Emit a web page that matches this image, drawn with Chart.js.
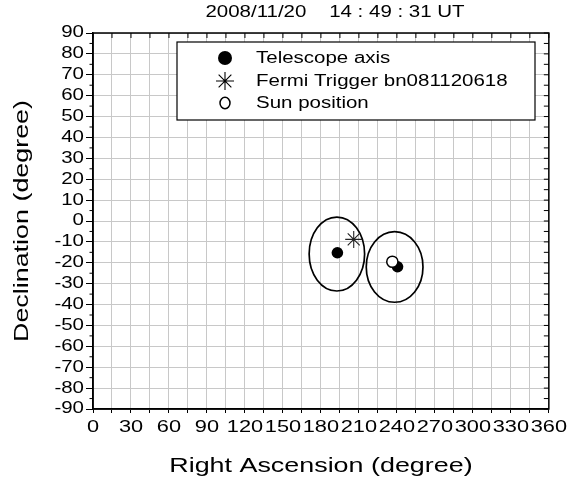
<!DOCTYPE html>
<html>
<head>
<meta charset="utf-8">
<script src="https://cdn.jsdelivr.net/npm/chart.js@4.4.0/dist/chart.umd.min.js"></script>
<style>
  html, body { margin: 0; padding: 0; background: #fff; overflow: hidden; }
  #wrap { position: absolute; left: 0; top: 0; width: 571px; height: 483px; }
</style>
</head>
<body>
<div id="wrap"><canvas id="sky"></canvas></div>
<script>
var titleText = "2008/11/20    14 : 49 : 31 UT";
var seriesLabels = ["Telescope axis", "Fermi Trigger bn081120618", "Sun position"];

var raMin = 0, raMax = 360, raStep = 15, raLabelStep = 30;
var decMin = -90, decMax = 90, decStep = 10;

var telescopeRA = [193.0, 240.5];
var telescopeDec = [-15.2, -21.9];
var fermiRA = [205.9];
var fermiDec = [-8.8];
var sunRA = [236.4];
var sunDec = [-19.5];

// field of view outlines: centre and half-widths, in degrees
var fovRA = [192.6, 238.2];
var fovDec = [-15.8, -22.0];
var fovHalfRA = [21.9, 22.4];
var fovHalfDec = [17.7, 16.9];

function pts(xs, ys) {
    return xs.map(function (x, i) { return { x: x, y: ys[i] }; });
}

// lettering in the source plot is set wide; stretch every string along its own baseline
var TEXT_WIDEN = 1.28;
var canvas = document.getElementById("sky");
var c2d = canvas.getContext("2d");
var nativeFill = c2d.fillText;
var nativeMeasure = c2d.measureText;
c2d.fillText = function (t, x, y, maxW) {
    this.save();
    this.translate(x, y);
    this.scale(TEXT_WIDEN, 1);
    if (maxW === undefined) nativeFill.call(this, t, 0, 0);
    else nativeFill.call(this, t, 0, 0, maxW / TEXT_WIDEN);
    this.restore();
};
c2d.measureText = function (t) {
    var m = nativeMeasure.call(this, t);
    return {
        width: m.width * TEXT_WIDEN,
        actualBoundingBoxLeft: m.actualBoundingBoxLeft * TEXT_WIDEN,
        actualBoundingBoxRight: m.actualBoundingBoxRight * TEXT_WIDEN,
        actualBoundingBoxAscent: m.actualBoundingBoxAscent,
        actualBoundingBoxDescent: m.actualBoundingBoxDescent
    };
};

Chart.defaults.font.family = "'Liberation Sans', Arial, sans-serif";
Chart.defaults.color = "#000";

function drawStar(ctx, x, y, r) {
    ctx.beginPath();
    for (var k = 0; k < 4; k++) {
        var a = k * Math.PI / 4;
        ctx.moveTo(x - r * Math.cos(a), y - r * Math.sin(a));
        ctx.lineTo(x + r * Math.cos(a), y + r * Math.sin(a));
    }
    ctx.stroke();
}

var fovPlugin = {
    id: "fov",
    beforeDatasetsDraw: function (chart) {
        var ctx = chart.ctx, xs = chart.scales.x, ys = chart.scales.y;
        ctx.save();
        ctx.strokeStyle = "#000";
        ctx.lineWidth = 1.7;
        for (var i = 0; i < fovRA.length; i++) {
            var cx = xs.getPixelForValue(fovRA[i]), cy = ys.getPixelForValue(fovDec[i]);
            var rx = Math.abs(xs.getPixelForValue(fovRA[i] + fovHalfRA[i]) - cx);
            var ry = Math.abs(ys.getPixelForValue(fovDec[i] + fovHalfDec[i]) - cy);
            ctx.beginPath();
            ctx.ellipse(cx, cy, rx, ry, 0, 0, Math.PI * 2);
            ctx.stroke();
        }
        ctx.restore();
    }
};

var framePlugin = {
    id: "frame",
    afterDraw: function (chart) {
        var ctx = chart.ctx, a = chart.chartArea, xs = chart.scales.x, ys = chart.scales.y;
        ctx.save();
        ctx.strokeStyle = "#000";
        ctx.lineWidth = 1;
        ctx.beginPath();
        for (var v = raMin; v <= raMax; v += raStep) {
            var px = xs.getPixelForValue(v);
            ctx.moveTo(px, a.top); ctx.lineTo(px, a.top + 5);
        }
        for (var d = decMin; d <= decMax; d += decStep / 2) {
            var py = ys.getPixelForValue(d);
            ctx.moveTo(a.right, py); ctx.lineTo(a.right - 5, py);
            if (d % decStep !== 0) { ctx.moveTo(a.left, py); ctx.lineTo(a.left - 3.5, py); }
        }
        ctx.stroke();
        ctx.lineWidth = 1.5;
        ctx.strokeRect(a.left, a.top, a.right - a.left, a.bottom - a.top);

        ctx.fillStyle = "#000";
        ctx.font = "16px 'Liberation Sans', Arial, sans-serif";
        ctx.textAlign = "center";
        ctx.textBaseline = "middle";
        ctx.fillText(titleText, 335, 13);
        ctx.restore();
    }
};

var legendPlugin = {
    id: "boxLegend",
    afterDraw: function (chart) {
        var ctx = chart.ctx;
        var box = { left: 177, top: 42, right: 535, bottom: 120 };
        var rows = [58, 81, 103];
        ctx.save();
        ctx.fillStyle = "#fff";
        ctx.fillRect(box.left, box.top, box.right - box.left, box.bottom - box.top);
        ctx.strokeStyle = "#000";
        ctx.lineWidth = 1.2;
        ctx.strokeRect(box.left, box.top, box.right - box.left, box.bottom - box.top);

        var sx = 225;
        ctx.fillStyle = "#000";
        ctx.beginPath(); ctx.arc(sx, rows[0], 7, 0, Math.PI * 2); ctx.fill();
        ctx.lineWidth = 1.1;
        drawStar(ctx, sx, rows[1], 9);
        ctx.lineWidth = 1.5;
        ctx.beginPath(); ctx.ellipse(sx, rows[2], 5, 5.8, 0, 0, Math.PI * 2); ctx.stroke();

        ctx.font = "16px 'Liberation Sans', Arial, sans-serif";
        ctx.textAlign = "left";
        ctx.textBaseline = "middle";
        for (var i = 0; i < seriesLabels.length; i++) ctx.fillText(seriesLabels[i], 256, rows[i] + 1);
        ctx.restore();
    }
};

new Chart(canvas, {
    type: "scatter",
    data: {
        datasets: [
            { label: seriesLabels[0], data: pts(telescopeRA, telescopeDec), order: 3,
              pointStyle: "circle", pointRadius: 5.8, backgroundColor: "#000", borderColor: "#000", borderWidth: 0 },
            { label: seriesLabels[1], data: pts(fermiRA, fermiDec), order: 2,
              pointStyle: "star", pointRadius: 8.5, borderColor: "#222", borderWidth: 1.1, backgroundColor: "transparent" },
            { label: seriesLabels[2], data: pts(sunRA, sunDec), order: 1,
              pointStyle: "circle", pointRadius: 5.6, backgroundColor: "#fff", borderColor: "#000", borderWidth: 1.5 }
        ]
    },
    options: {
        responsive: true,
        maintainAspectRatio: false,
        devicePixelRatio: 1,
        animation: false,
        events: [],
        layout: { padding: { top: 33, right: 16, left: 0, bottom: 0 } },
        plugins: { legend: { display: false }, tooltip: { enabled: false } },
        scales: {
            x: {
                type: "linear", min: raMin, max: raMax,
                afterFit: function (s) { s.height = 74; },
                ticks: {
                    stepSize: raStep, autoSkip: false, maxRotation: 0, padding: 4,
                    font: { size: 17 },
                    callback: function (v) { return v % raLabelStep === 0 ? String(v) : ""; }
                },
                grid: { color: "#c8c8c8", lineWidth: 1, tickColor: "#000", tickLength: 4 },
                border: { color: "#000", width: 1.5 },
                title: { display: true, text: "Right Ascension (degree)", font: { size: 21 }, padding: { top: 0, bottom: 4 } }
            },
            y: {
                type: "linear", min: decMin, max: decMax,
                afterFit: function (s) { s.width = 93; },
                ticks: { stepSize: decStep, autoSkip: false, padding: 2, font: { size: 16 } },
                grid: { color: "#c8c8c8", lineWidth: 1, tickColor: "#000", tickLength: 7 },
                border: { color: "#000", width: 1.5 },
                title: { display: true, text: "Declination (degree)", font: { size: 21 }, padding: { top: 10, bottom: 0 } }
            }
        }
    },
    plugins: [fovPlugin, framePlugin, legendPlugin]
});
</script>
</body>
</html>
